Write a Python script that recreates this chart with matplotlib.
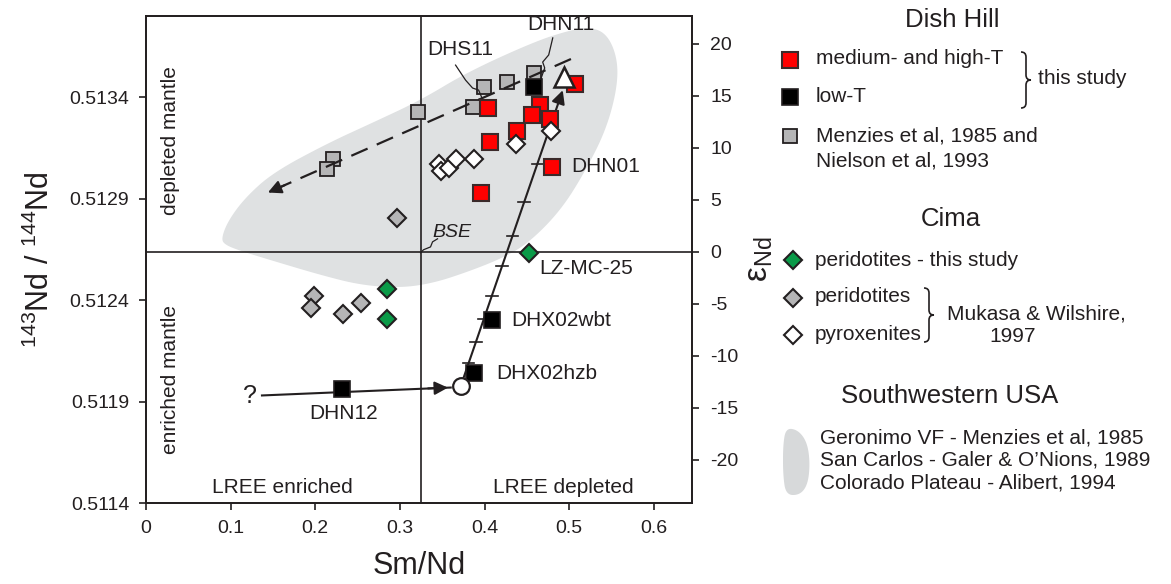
import numpy as np
import matplotlib.pyplot as plt
from matplotlib.path import Path
from matplotlib.patches import PathPatch, Polygon

plt.rcParams['font.family'] = ['Liberation Sans', 'DejaVu Sans']
plt.rcParams['mathtext.fontset'] = 'custom'
plt.rcParams['mathtext.rm'] = 'Liberation Sans'
plt.rcParams['mathtext.it'] = 'Liberation Sans:italic'

INK = '#231f20'
CHUR_ND = 0.512638
CHUR_SMND = 0.325

# Dish Hill, this study
red_sm = [0.404, 0.465, 0.456, 0.477, 0.438, 0.406, 0.507, 0.480, 0.396]
red_nd = [0.513346, 0.513360, 0.513311, 0.513291, 0.513232, 0.513177, 0.513464, 0.513058, 0.512930]
black_sm = [0.458, 0.409, 0.388, 0.232]
black_nd = [0.513450, 0.512301, 0.512039, 0.511960]
# Menzies et al 1985, Nielson et al 1993
grey_sq_sm = [0.321, 0.399, 0.427, 0.458, 0.386, 0.221, 0.214]
grey_sq_nd = [0.513326, 0.513450, 0.513474, 0.513519, 0.513350, 0.513093, 0.513044]
# Cima
green_sm = [0.285, 0.285, 0.452]
green_nd = [0.512455, 0.512307, 0.512633]
grey_dia_sm = [0.296, 0.199, 0.195, 0.233, 0.254]
grey_dia_nd = [0.512806, 0.512420, 0.512361, 0.512331, 0.512386]
white_dia_sm = [0.346, 0.348, 0.358, 0.366, 0.387, 0.437, 0.479]
white_dia_nd = [0.513073, 0.513034, 0.513049, 0.513093, 0.513093, 0.513167, 0.513232]

# end members and trends
tri_sm, tri_nd = 0.4935, 0.513499
circ_sm, circ_nd = 0.372, 0.511979
dash_sm = [0.502, 0.144]
dash_nd = [0.513588, 0.512930]
mix_sm = [0.372, 0.4923]
mix_nd = [0.511979, 0.513434]
mix_ticks_nd = [0.513073, 0.512885, 0.512717, 0.512569, 0.512420, 0.512306, 0.512192, 0.512088]
q_sm = [0.137, 0.360]
q_nd = [0.511930, 0.511969]

# Southwestern USA field outline
field_sm = [0.0888, 0.0970, 0.1172, 0.1503, 0.2142, 0.2686, 0.3243, 0.3799, 0.4580,
            0.4982, 0.5254, 0.5456, 0.5574, 0.5562, 0.5432, 0.5195, 0.4899, 0.4509,
            0.4189, 0.3799, 0.3396, 0.3006, 0.2533, 0.2059, 0.1503, 0.1112, 0.0935]
field_nd = [0.512702, 0.512791, 0.512905, 0.513029, 0.513172, 0.513276, 0.513385, 0.513524, 0.513672,
            0.513727, 0.513747, 0.513707, 0.513583, 0.513435, 0.513237, 0.513039, 0.512841, 0.512677,
            0.512603, 0.512539, 0.512484, 0.512460, 0.512474, 0.512524, 0.512593, 0.512643, 0.512672]

# label leaders
dhn11_sm = [0.4805, 0.4757, 0.4686, 0.4710, 0.4640]
dhn11_nd = [0.513692, 0.513608, 0.513573, 0.513544, 0.513460]
dhs11_sm = [0.3657, 0.3775, 0.3858, 0.3929, 0.4000]
dhs11_nd = [0.513558, 0.513484, 0.513445, 0.513435, 0.513365]
bse_sm = [0.3444, 0.3385, 0.3361, 0.3278, 0.3243]
bse_nd = [0.512702, 0.512687, 0.512662, 0.512648, 0.512633]

nd_ticks = [0.5114, 0.5119, 0.5124, 0.5129, 0.5134]
sm_ticks = [0, 0.1, 0.2, 0.3, 0.4, 0.5, 0.6]
eps_ticks = [20, 15, 10, 5, 0, -5, -10, -15, -20]


def to_eps(r):
    return (np.asarray(r) / CHUR_ND - 1) * 1e4


def smooth_closed(x, y, n=3):
    pts = np.column_stack([x, y]).astype(float)
    for _ in range(n):
        nxt = np.roll(pts, -1, axis=0)
        new = np.empty((2 * len(pts), 2))
        new[0::2] = 0.75 * pts + 0.25 * nxt
        new[1::2] = 0.25 * pts + 0.75 * nxt
        pts = new
    return pts


def brace(axis, x, y1, y2, w=6):
    ym = (y1 + y2) / 2
    verts = [(x, y1), (x + w, y1), (x + w, y1 + w), (x + w, ym - w), (x + w, ym), (x + 2 * w, ym),
             (x + 2 * w, ym), (x + w, ym), (x + w, ym + w), (x + w, y2 - w), (x + w, y2), (x, y2)]
    codes = [Path.MOVETO, Path.CURVE3, Path.CURVE3, Path.LINETO, Path.CURVE3, Path.CURVE3,
             Path.MOVETO, Path.CURVE3, Path.CURVE3, Path.LINETO, Path.CURVE3, Path.CURVE3]
    axis.add_patch(PathPatch(Path(verts, codes), fill=False, lw=1.2, ec=INK))


fig = plt.figure(figsize=(11.71, 5.84), dpi=100)
ax = fig.add_axes([146 / 1171, 1 - 503 / 584, (692 - 146) / 1171, (503 - 16) / 584])
ax.set_xlim(0, 0.645)
ax.set_ylim(0.5114, 0.5138)

ax.add_patch(Polygon(smooth_closed(field_sm, field_nd), closed=True, fc='#dfe1e2', ec='none', zorder=0))
ax.axvline(CHUR_SMND, color=INK, lw=1.2, zorder=1)
ax.axhline(CHUR_ND, color=INK, lw=1.2, zorder=1)

# trends
ax.plot(q_sm, q_nd, color=INK, lw=1.5, zorder=2)
ax.annotate('', xy=(q_sm[1], q_nd[1]), xytext=(q_sm[1] - 0.03, q_nd[1] - 0.000005),
            arrowprops=dict(arrowstyle='-|>', color=INK, lw=1.5, mutation_scale=20), zorder=2)
ax.annotate('', xy=(mix_sm[1], mix_nd[1]), xytext=(mix_sm[0], mix_nd[0]),
            arrowprops=dict(arrowstyle='-|>', color=INK, lw=1.5, mutation_scale=20,
                            shrinkA=0, shrinkB=0), zorder=2)
tick_sm = np.interp(mix_ticks_nd, mix_nd, mix_sm)
for s, n in zip(tick_sm, mix_ticks_nd):
    ax.plot([s - 0.007, s + 0.007], [n, n], color=INK, lw=1.2, zorder=2)

ax.plot(grey_sq_sm, grey_sq_nd, 's', ms=10, mfc='#b5b5b6', mec=INK, mew=1.3, zorder=3)
ax.plot(dash_sm, dash_nd, color=INK, lw=1.6, dashes=(8, 4.5), zorder=4)
ax.annotate('', xy=(dash_sm[1], dash_nd[1]), xytext=(dash_sm[1] + 0.02, dash_nd[1] + 0.0000365),
            arrowprops=dict(arrowstyle='-|>', color=INK, lw=1.5, mutation_scale=20,
                            shrinkA=0, shrinkB=0), zorder=4)

ax.plot(red_sm, red_nd, 's', ms=12, mfc='#ff0000', mec='#3b2a2a', mew=1.5, zorder=5)
ax.plot(black_sm, black_nd, 's', ms=12, mfc='black', mec=INK, mew=1.2, zorder=5)
ax.plot(grey_dia_sm, grey_dia_nd, 'D', ms=9, mfc='#b5b5b6', mec=INK, mew=1.5, zorder=6)
ax.plot(white_dia_sm, white_dia_nd, 'D', ms=9, mfc='white', mec=INK, mew=1.5, zorder=6)
ax.plot(green_sm, green_nd, 'D', ms=9, mfc='#0a9a48', mec=INK, mew=1.5, zorder=6)
ax.plot(tri_sm, tri_nd, '^', ms=14, mfc='white', mec=INK, mew=1.8, zorder=7)
ax.plot(circ_sm, circ_nd, 'o', ms=12, mfc='white', mec=INK, mew=1.6, zorder=7)

# labels and leaders
for lx, ly in [(dhn11_sm, dhn11_nd), (dhs11_sm, dhs11_nd), (bse_sm, bse_nd)]:
    ax.plot(lx, ly, color=INK, lw=0.9, zorder=4)

fs = 15
ax.text(0.490, 0.513756, 'DHN11', fontsize=fs, color=INK, ha='center', va='center')
ax.text(0.3716, 0.513633, 'DHS11', fontsize=fs, color=INK, ha='center', va='center')
ax.text(0.502, 0.513058, 'DHN01', fontsize=fs, color=INK, va='center')
ax.text(0.464, 0.512558, 'LZ-MC-25', fontsize=fs, color=INK, va='center')
ax.text(0.431, 0.512301, 'DHX02wbt', fontsize=fs, color=INK, va='center')
ax.text(0.414, 0.512039, 'DHX02hzb', fontsize=fs, color=INK, va='center')
ax.text(0.233, 0.511841, 'DHN12', fontsize=fs, color=INK, ha='center', va='center')
ax.text(0.3385, 0.512732, 'BSE', fontsize=14, color=INK, style='italic', va='center')
ax.text(0.123, 0.511925, '?', fontsize=18, color=INK, ha='center', va='center')
ax.text(0.161, 0.511474, 'LREE enriched', fontsize=fs, color=INK, ha='center', va='center')
ax.text(0.4935, 0.511474, 'LREE depleted', fontsize=fs, color=INK, ha='center', va='center')
ax.text(0.0284, 0.513187, 'depleted mantle', fontsize=fs, color=INK, rotation=90,
        ha='center', va='center')
ax.text(0.0284, 0.512009, 'enriched mantle', fontsize=fs, color=INK, rotation=90,
        ha='center', va='center')

# axes styling
ax.set_xticks(sm_ticks)
ax.set_xticklabels(['0', '0.1', '0.2', '0.3', '0.4', '0.5', '0.6'])
ax.set_yticks(nd_ticks)
ax.set_yticklabels([f'{v:.4f}' for v in nd_ticks])
ax.tick_params(direction='out', length=5, width=1.2, labelsize=14, colors=INK, pad=7)
ax.set_xlabel('Sm/Nd', fontsize=22, color=INK, labelpad=10)
ax.set_ylabel('$^{143}$Nd / $^{144}$Nd', fontsize=22, color=INK, labelpad=10)
for sp in ax.spines.values():
    sp.set_linewidth(1.3)
    sp.set_color(INK)

ax2 = ax.twinx()
ax2.set_ylim(to_eps(0.5114), to_eps(0.5138))
ax2.set_yticks(eps_ticks)
ax2.set_yticklabels([str(v) for v in eps_ticks])
ax2.tick_params(direction='out', length=5, width=1.2, labelsize=14, colors=INK, pad=8)
ax2.set_ylabel('ε$_{\\rm Nd}$', fontsize=24, color=INK, rotation=90, labelpad=4)
for sp in ax2.spines.values():
    sp.set_linewidth(1.3)
    sp.set_color(INK)

# legend panel drawn in pixel space
ov = fig.add_axes([0, 0, 1, 1])
ov.set_xlim(0, 1171)
ov.set_ylim(584, 0)
ov.axis('off')

ov.text(952, 20, 'Dish Hill', fontsize=18.5, color=INK, ha='center', va='center')
ov.plot(790, 60, 's', ms=12, mfc='#ff0000', mec='#3b2a2a', mew=1.5)
ov.text(816, 59, 'medium- and high-T', fontsize=fs, color=INK, va='center')
ov.plot(790, 97, 's', ms=12, mfc='black', mec=INK, mew=1.2)
ov.text(816, 96, 'low-T', fontsize=fs, color=INK, va='center')
brace(ov, 1021, 52, 108, w=5)
ov.text(1038, 79, 'this study', fontsize=fs, color=INK, va='center')
ov.plot(790, 136, 's', ms=10, mfc='#b5b5b6', mec=INK, mew=1.3)
ov.text(816, 136, 'Menzies et al, 1985 and', fontsize=fs, color=INK, va='center')
ov.text(816, 161, 'Nielson et al, 1993', fontsize=fs, color=INK, va='center')

ov.text(951, 219, 'Cima', fontsize=18.5, color=INK, ha='center', va='center')
ov.plot(793, 260, 'D', ms=9, mfc='#0a9a48', mec=INK, mew=1.5)
ov.text(815, 260, 'peridotites - this study', fontsize=fs, color=INK, va='center')
ov.plot(793, 298, 'D', ms=9, mfc='#b5b5b6', mec=INK, mew=1.5)
ov.text(815, 297, 'peridotites', fontsize=fs, color=INK, va='center')
ov.plot(793, 335, 'D', ms=9, mfc='white', mec=INK, mew=1.5)
ov.text(815, 334, 'pyroxenites', fontsize=fs, color=INK, va='center')
brace(ov, 924, 288, 342, w=5)
ov.text(947, 314, 'Mukasa & Wilshire,', fontsize=fs, color=INK, va='center')
ov.text(1013, 337, '1997', fontsize=fs, color=INK, ha='center', va='center')

ov.text(950, 396, 'Southwestern USA', fontsize=18.5, color=INK, ha='center', va='center')
blob_x = [786, 798, 807, 810, 808, 800, 786, 783, 783]
blob_y = [428, 430, 442, 462, 484, 495, 495, 475, 445]
ov.add_patch(Polygon(smooth_closed(blob_x, blob_y), closed=True, fc='#d7d9da', ec='none'))
ov.text(820, 438, 'Geronimo VF - Menzies et al, 1985', fontsize=fs, color=INK, va='center')
ov.text(820, 460, 'San Carlos - Galer & O\u2019Nions, 1989', fontsize=fs, color=INK, va='center')
ov.text(820, 483, 'Colorado Plateau - Alibert, 1994', fontsize=fs, color=INK, va='center')

fig.savefig('out.png', dpi=100)
